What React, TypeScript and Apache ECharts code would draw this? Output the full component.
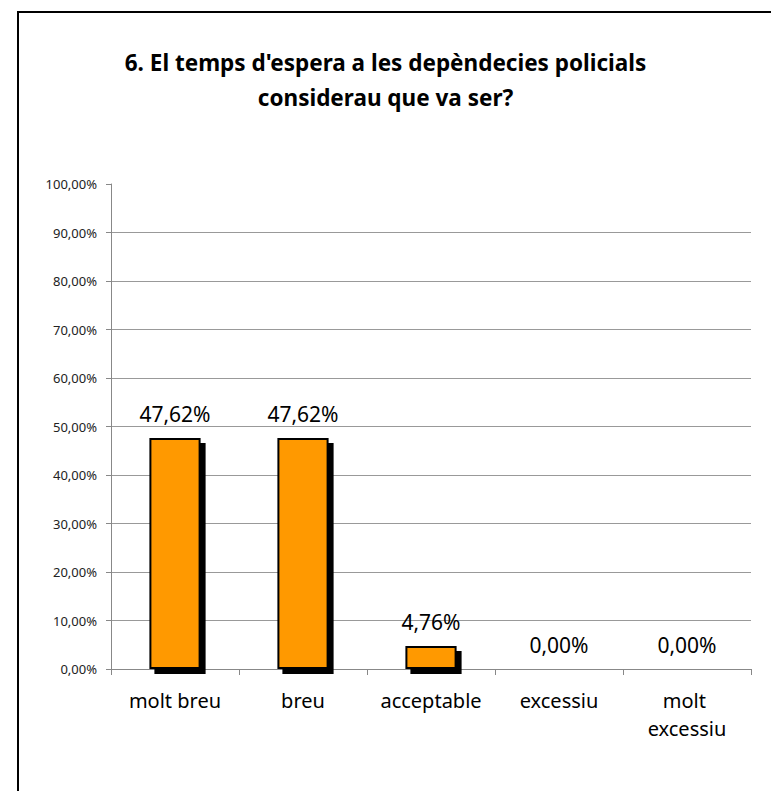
import React, { useEffect, useRef } from "react";
import * as echarts from "echarts";

const titleLines = ["6. El temps d'espera a les depèndecies policials", "considerau que va ser?"];
const categories = ["molt breu", "breu", "acceptable", "excessiu", "molt excessiu"];
const values = [47.62, 47.62, 4.76, 0, 0];
const yMin = 0;
const yMax = 100;
const yStep = 10;

const fmt = (v: number) => v.toFixed(2).replace(".", ",") + "%";
const FONT = "'Noto Sans', 'Open Sans', sans-serif";

export default function App() {
  const ref = useRef<HTMLDivElement>(null);
  useEffect(() => {
    if (!ref.current) return;
    const chart = echarts.init(ref.current, undefined, { renderer: "svg" });
    chart.setOption({
      animation: false,
      backgroundColor: "#ffffff",
      title: {
        text: titleLines.join("\n"),
        left: "center",
        top: 40,
        textStyle: {
          fontFamily: FONT,
          fontWeight: "bold",
          fontSize: 22.5,
          lineHeight: 35,
          color: "#000",
        },
      },
      graphic: [
        {
          type: "rect",
          shape: { x: 18, y: 12, width: 820, height: 900 },
          style: { fill: "none", stroke: "#000", lineWidth: 2 },
          silent: true,
        },
      ],
      grid: { left: 111, right: 20, top: 184, bottom: 122 },
      xAxis: {
        type: "category",
        data: categories,
        axisLine: { lineStyle: { color: "#888", width: 1 } },
        axisTick: { show: true, length: 6, lineStyle: { color: "#888" } },
        axisLabel: {
          interval: 0,
          margin: 17,
          fontFamily: FONT,
          fontSize: 20,
          lineHeight: 28,
          color: "#000",
          width: 115,
          overflow: "break",
        },
      },
      yAxis: {
        type: "value",
        min: yMin,
        max: yMax,
        interval: yStep,
        axisLine: { show: true, lineStyle: { color: "#888", width: 1 } },
        axisTick: { show: true, length: 5, lineStyle: { color: "#888" } },
        splitLine: { show: true, showMaxLine: false, lineStyle: { color: "#999", width: 1 } },
        axisLabel: {
          margin: 14,
          fontFamily: FONT,
          fontSize: 13,
          color: "#222",
          formatter: (v: number) => fmt(v),
        },
      },
      series: [
        {
          type: "bar",
          barWidth: "40%",
          data: values.map((v) => ({
            value: v,
            itemStyle:
              v === 0
                ? { borderWidth: 0, shadowColor: "rgba(0,0,0,0)" }
                : undefined,
          })),
          itemStyle: {
            color: "#FF9900",
            borderColor: "#000",
            borderWidth: 2,
            shadowColor: "#000",
            shadowBlur: 0,
            shadowOffsetX: 5,
            shadowOffsetY: 5,
          },
          label: {
            show: true,
            position: "top",
            distance: 12,
            fontFamily: FONT,
            fontSize: 21,
            lineHeight: 24,
            color: "#000",
            formatter: (p: any) => fmt(p.value),
          },
        },
      ],
    });
    return () => chart.dispose();
  }, []);
  return (
    <div
      ref={ref}
      style={{ position: "fixed", left: 0, top: 0, width: 771, height: 791 }}
    />
  );
}
